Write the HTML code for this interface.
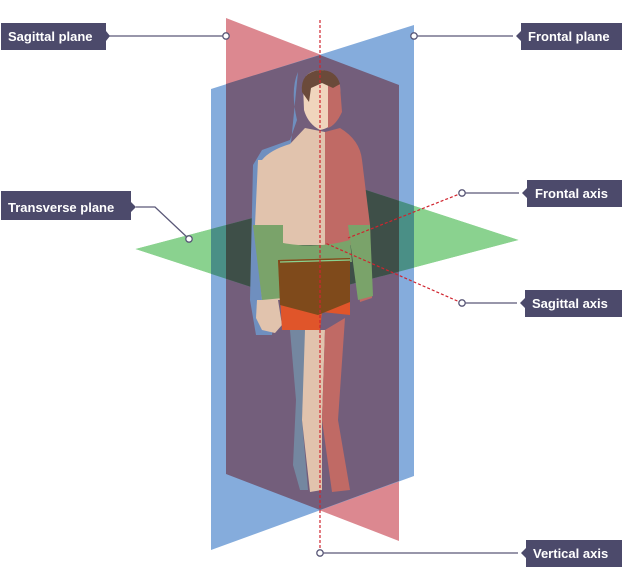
<!DOCTYPE html>
<html><head><meta charset="utf-8"><style>
html,body{margin:0;padding:0;background:#fff;}
svg{display:block;}
text{font-family:"Liberation Sans",sans-serif;font-weight:bold;font-size:13px;fill:#fff;}
</style></head><body>
<svg width="624" height="583" viewBox="0 0 624 583" xmlns="http://www.w3.org/2000/svg">
<defs>
<clipPath id="gclip"><polygon points="135,249 363,189 519,240 291,300"/></clipPath>
</defs>
<!-- planes -->
<polygon points="226,18 399,85 399,541 226,474" fill="#dc8890"/>
<polygon points="211,89 414,25 414,476 211,550" fill="#85acdc"/>
<polygon points="226,84 320,55 399,85 399,481 320,510 226,474" fill="#735e7b"/>
<!-- transverse plane -->
<g clip-path="url(#gclip)">
<polygon points="135,249 363,189 519,240 291,300" fill="#8ad28f"/>
<polygon points="211,89 414,25 414,476 211,550" fill="#4a8f86"/>
<polygon points="226,84 320,55 399,85 399,481 320,510 226,474" fill="#3e4f48"/>
</g>
<!-- person -->
<g>
<!-- blue back outline -->
<path d="M298,72 Q290,90 297,120 L290,140 L262,150 L253,165 L250,300 L256,335 L272,335 Z" fill="#6f8fbf"/>
<!-- head -->
<path d="M303,84 Q305,70 322,70 Q336,72 340,86 L341,112 Q333,128 320,130 Q308,124 304,110Z" fill="#f0d5bd"/>
<path d="M328,72 Q338,76 340,86 L342,112 Q336,125 328,128 Z" fill="#c06a65"/>
<path d="M302,92 Q300,72 320,70 Q336,70 340,84 L333,88 L322,83 L311,88 L309,102 Z" fill="#6b4a3a"/>
<!-- torso -->
<path d="M262,160 Q270,150 290,144 L305,128 L325,132 L325,245 L275,245 L265,230Z" fill="#e1c3ad"/>
<path d="M325,132 L340,128 Q360,140 362,160 L362,230 L352,245 L325,245Z" fill="#c06a65"/>
<!-- arms -->
<path d="M258,160 L275,160 L283,225 L283,300 L272,300 L262,300 L255,225Z" fill="#e1c3ad"/>
<path d="M253,225 L283,225 L283,298 L262,300 Z" fill="#7aa36a"/>
<path d="M257,300 L278,300 L282,325 L275,333 L262,330 L256,318Z" fill="#e1c3ad"/>
<path d="M350,150 L362,160 L370,225 L372,298 L360,302 L350,230Z" fill="#c06a65"/>
<path d="M348,225 L370,225 L373,296 L358,300 Z" fill="#7aa36a"/>
<!-- shorts -->
<path d="M278,242 Q315,250 350,240 L352,262 L278,262Z" fill="#7aa36a"/>
<path d="M278,260 L350,258 L350,315 L322,312 L320,330 L282,330Z" fill="#e0552a"/>
<path d="M278,260 L350,258 L350,302 L318,315 L280,305Z" fill="#7f4a1b"/>
<path d="M280,262 L350,260" stroke="#8ad28f" stroke-width="1.2" fill="none"/>
<!-- legs -->
<path d="M290,330 L306,330 L302,420 L308,490 L300,490 L293,465 L296,400Z" fill="#7487a0"/>
<path d="M305,330 L325,330 L322,420 L322,490 L310,492 L302,420Z" fill="#e1c3ad"/>
<path d="M325,330 L345,318 L338,420 L350,490 L332,492 L322,420Z" fill="#c06a65"/>
</g>
<!-- axes -->
<g stroke="#d0242e" stroke-width="1.2" stroke-dasharray="3,2" fill="none">
<line x1="320" y1="20" x2="320" y2="553"/>
<line x1="462" y1="193" x2="348" y2="238"/>
<line x1="462" y1="303" x2="325" y2="243"/>
</g>
<!-- connectors -->
<g stroke="#5a5878" stroke-width="1.3" fill="none">
<line x1="106" y1="36" x2="226" y2="36"/>
<line x1="414" y1="36" x2="513" y2="36"/>
<polyline points="136,207 155,207 189,239"/>
<line x1="462" y1="193" x2="519" y2="193"/>
<line x1="462" y1="303" x2="517" y2="303"/>
<line x1="320" y1="553" x2="518" y2="553"/>
</g>
<g fill="#fff" stroke="#5a5878" stroke-width="1.3">
<circle cx="226" cy="36" r="3.2"/><circle cx="414" cy="36" r="3.2"/>
<circle cx="189" cy="239" r="3.2"/><circle cx="462" cy="193" r="3.2"/>
<circle cx="462" cy="303" r="3.2"/><circle cx="320" cy="553" r="3.2"/>
</g>
<!-- labels -->
<g fill="#4c4a6b">
<path d="M1,23 H106 V31 L110,36 L106,41 V50 H1Z"/>
<path d="M521,23 H622 V50 H521 V41 L516,36 L521,31Z"/>
<path d="M1,191 H131 V202 L136,207 L131,212 V220 H1Z"/>
<path d="M527,180 H622 V207 H527 V198 L522,193 L527,188Z"/>
<path d="M525,290 H622 V317 H525 V308 L520,303 L525,298Z"/>
<path d="M526,540 H622 V567 H526 V558 L521,553 L526,548Z"/>
</g>
<text x="8" y="41">Sagittal plane</text>
<text x="528" y="41">Frontal plane</text>
<text x="8" y="212">Transverse plane</text>
<text x="535" y="198">Frontal axis</text>
<text x="532" y="308">Sagittal axis</text>
<text x="533" y="558">Vertical axis</text>
</svg>
</body></html>
